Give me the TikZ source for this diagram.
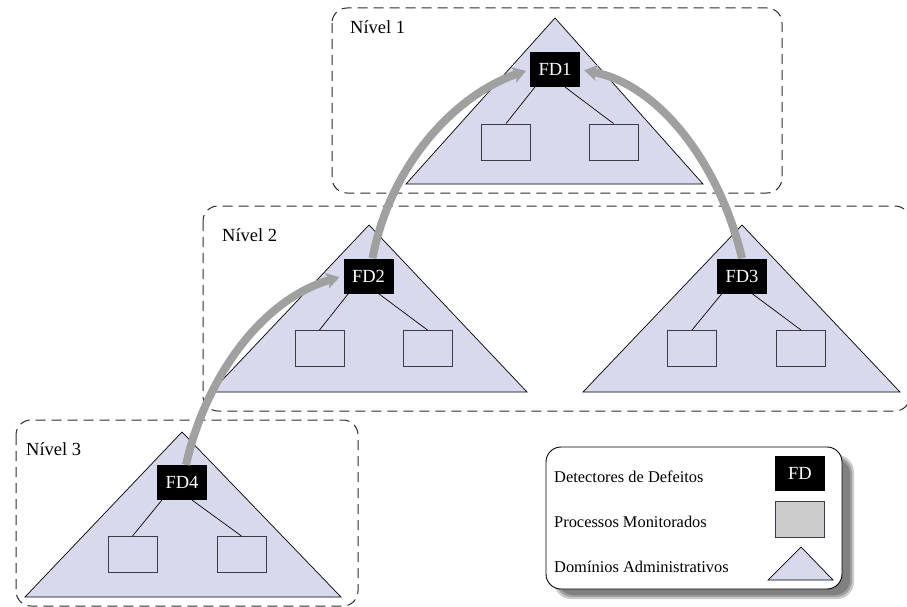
\documentclass[tikz,border=0pt]{standalone}
\usepackage{fontspec}
\setmainfont{Liberation Serif}
\usetikzlibrary{arrows.meta}
\definecolor{dom}{RGB}{217,217,238}
\definecolor{arrgray}{RGB}{160,160,160}
\definecolor{dashc}{RGB}{45,45,45}
\definecolor{procgray}{RGB}{204,204,204}
\definecolor{shadowc}{RGB}{128,128,128}
\definecolor{procline}{RGB}{60,60,70}
\begin{document}
\begin{tikzpicture}[x=1pt,y=-1pt,
  levelbox/.style={draw=dashc, dash pattern=on 10pt off 6pt, line width=1pt, rounded corners=15pt},
  admdom/.style={fill=dom, draw=black, line width=0.7pt},
  fdbox/.style={fill=black, text=white, minimum width=50pt, minimum height=35pt, inner sep=0pt, font=\fontsize{18.5}{20}\selectfont},
  procbox/.style={draw=procline, line width=0.9pt, minimum width=49pt, minimum height=36pt, inner sep=0pt},
  linkline/.style={draw=black, line width=0.7pt},
  hierarrow/.style={draw=arrgray, line width=8pt, shorten >=4pt, -{Stealth[width=16pt,length=13pt,inset=3pt]}},
  lvltext/.style={anchor=base west, font=\fontsize{18.5}{20}\selectfont, inner sep=0pt},
  legtext/.style={anchor=base west, font=\fontsize{16.4}{18}\selectfont, inner sep=0pt}
]
\useasboundingbox (0,0) rectangle (907,607);
\fill[white] (0,0) rectangle (907,607);

% level boxes
\draw[levelbox] (332,8) rectangle (782,193);
\draw[levelbox] (203,206) rectangle (910,411);
\draw[levelbox] (16,420) rectangle (358,606);

\node[lvltext] (n1) at (350,34) {Nível 1};
\node[lvltext] (n2) at (222,241.5) {Nível 2};
\node[lvltext] (n3) at (26,455) {Nível 3};

% domains
\draw[admdom] (555,18) -- (703,184) -- (406,184) -- cycle;
\draw[admdom] (369,225) -- (527,392) -- (211,392) -- cycle;
\draw[admdom] (742,225) -- (900,392) -- (583,392) -- cycle;
\draw[admdom] (182,432) -- (341,597) -- (25,597) -- cycle;

% failure detectors
\node[fdbox] (fd1) at (555,69.5) {FD1};
\node[fdbox] (fd2) at (368.5,276) {FD2};
\node[fdbox] (fd3) at (742,276) {FD3};
\node[fdbox] (fd4) at (182,482.5) {FD4};

% processes
\node[procbox] (p1a) at (506,142) {};
\node[procbox] (p1b) at (613.5,142) {};
\node[procbox] (p2a) at (319.5,348.5) {};
\node[procbox] (p2b) at (427.5,348.5) {};
\node[procbox] (p3a) at (692,348.5) {};
\node[procbox] (p3b) at (801,348.5) {};
\node[procbox] (p4a) at (132.5,554.5) {};
\node[procbox] (p4b) at (241.5,554.5) {};

\foreach \f/\a/\b in {fd1/p1a/p1b, fd2/p2a/p2b, fd3/p3a/p3b, fd4/p4a/p4b}{
  \draw[linkline] ([xshift=5pt]\f.south west) -- (\a.north);
  \draw[linkline] ([xshift=-15pt]\f.south east) -- (\b.north);
}

% hierarchy arrows
\draw[hierarrow] ([xshift=4pt]fd2.north) .. controls (390,165) and (455,95) .. (fd1.west);
\draw[hierarrow] (fd3.north) .. controls (720,165) and (660,85) .. (fd1.east);
\draw[hierarrow] ([xshift=4pt]fd4.north) .. controls (205,380) and (260,300) .. (fd2.west);

% legend
\fill[shadowc!40, rounded corners=17pt] (554,455) rectangle (854,599);
\fill[shadowc!75, rounded corners=16pt] (556,457) rectangle (852,597);
\fill[shadowc, rounded corners=15pt] (558,459) rectangle (850,595);
\node[draw=black, fill=white, line width=0.9pt, rounded corners=15pt, minimum width=296pt, minimum height=142pt, inner sep=0pt] (legend) at (694,518) {};
\node[fdbox] (lfd) at (800,473.5) {FD};
\node[procbox, fill=procgray] (lproc) at (800,519) {};
\draw[admdom] (801,547) -- (833,580) -- (768,580) -- cycle;
\node[legtext] (t1) at (554,482.7) {Detectores de Defeitos};
\node[legtext] (t2) at (554,527.7) {Processos Monitorados};
\node[legtext] (t3) at (554,572.3) {Domínios Administrativos};
\end{tikzpicture}
\end{document}
